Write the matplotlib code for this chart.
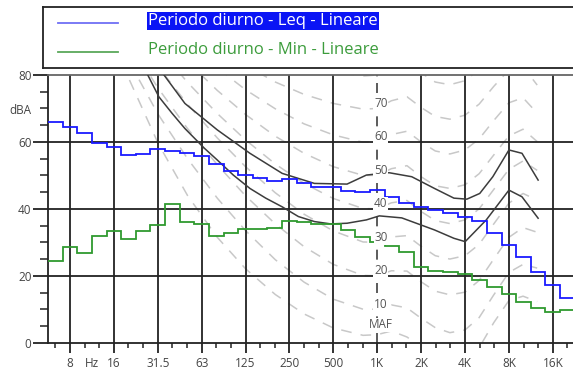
import numpy as np
import matplotlib.pyplot as plt
from matplotlib.ticker import FixedLocator, NullFormatter

plt.rcParams['font.family'] = ['Open Sans', 'DejaVu Sans']

# 1/3 octave bands (nominal) and levels
bands = [6.3, 8, 10, 12.5, 16, 20, 25, 31.5, 40, 50, 63, 80, 100, 125, 160, 200,
         250, 315, 400, 500, 630, 800, 1000, 1250, 1600, 2000, 2500, 3150, 4000,
         5000, 6300, 8000, 10000, 12500, 16000, 20000]
leq = [66.0, 64.4, 62.8, 59.8, 58.6, 56.1, 56.4, 57.8, 57.4, 56.8, 55.8, 53.5,
       51.2, 50.0, 49.2, 48.2, 49.0, 47.6, 46.6, 46.4, 45.2, 45.1, 45.5, 43.4,
       41.8, 40.6, 39.7, 38.7, 37.5, 36.4, 32.7, 29.2, 25.7, 21.2, 17.2, 13.3]
lmin = [24.5, 28.5, 26.7, 31.9, 33.5, 30.9, 33.5, 35.2, 41.5, 36.0, 35.5, 31.9,
        32.9, 34.0, 33.9, 34.2, 36.5, 36.2, 35.5, 35.5, 33.7, 31.7, 30.0, 28.8,
        27.0, 22.5, 21.5, 21.0, 20.5, 18.8, 16.5, 14.6, 12.3, 10.3, 9.3, 9.8]

# equal loudness contours (background)
cont_freq = [20, 31.5, 50, 80, 125, 200, 315, 500, 800, 1000, 1250, 1600, 2000,
             2500, 3150, 4000, 5000, 6300, 8000, 10000, 12500]
maf = [78.5, 59.5, 44.0, 31.5, 22.1, 14.4, 8.6, 4.4, 2.2, 2.4, 3.5, 1.7, -1.3,
       -4.2, -6.0, -5.4, -1.5, 6.0, 12.6, 13.9, 12.3]
phon10 = [83.8, 68.2, 55.0, 43.2, 33.5, 24.8, 18.1, 13.0, 10.0, 10.0, 11.3, 10.4,
          7.3, 4.5, 3.0, 3.8, 7.5, 14.3, 21.0, 23.4, 22.3]
phon20 = [89.6, 76.0, 64.0, 53.2, 43.9, 35.5, 28.7, 23.4, 20.1, 20.0, 21.5, 21.4,
          18.2, 15.4, 14.3, 15.1, 18.6, 25.0, 31.5, 34.4, 33.0]
phon30 = [94.9, 82.4, 71.3, 61.2, 52.6, 44.8, 38.4, 33.4, 30.1, 30.0, 31.6, 32.0,
          28.8, 26.0, 25.0, 26.0, 29.4, 35.5, 41.7, 44.6, 42.6]
phon40 = [99.9, 88.2, 77.8, 68.5, 60.6, 53.4, 47.6, 43.1, 40.1, 40.0, 41.8, 42.5,
          39.2, 36.5, 35.6, 36.7, 40.0, 45.8, 51.8, 54.3, 51.5]
phon50 = [104.7, 93.7, 84.0, 75.4, 68.2, 61.7, 56.6, 52.6, 50.0, 50.0, 52.0, 52.9,
          49.6, 46.9, 46.1, 47.2, 50.5, 56.1, 61.8, 63.8, 60.1]
phon60 = [109.5, 99.1, 90.0, 82.1, 75.6, 69.9, 65.4, 62.1, 59.9, 60.0, 62.2, 63.2,
          60.0, 57.3, 56.4, 57.6, 60.9, 66.4, 71.7, 73.2, 68.6]
phon70 = [114.3, 104.4, 95.9, 88.6, 82.9, 77.9, 74.2, 71.5, 69.8, 70.0, 72.3, 73.5,
          70.3, 67.6, 66.8, 68.0, 71.3, 76.6, 81.5, 82.5, 77.0]
phon80 = [119.0, 109.6, 101.7, 95.2, 90.1, 85.9, 82.9, 80.9, 79.7, 80.0, 82.5, 83.7,
          80.6, 77.9, 77.1, 78.3, 81.6, 86.8, 91.4, 91.7, 85.4]
contour_labels = ['MAF', '10', '20', '30', '40', '50', '60', '70']
contour_levels = [5.3, 11.5, 21.5, 31.5, 41.5, 51.5, 61.5, 71.5]

# two dark reference curves
low_freq = [26.7, 31.8, 39.1, 48, 65.3, 80, 103, 134, 172, 223, 288, 371, 480,
            621, 843, 1034, 1473, 2470, 3357, 4011, 4800, 5598, 8003, 9836, 12690]
low_db = [80, 73.5, 68.6, 64.0, 58.1, 54.6, 50.1, 46.1, 43.2, 40.6, 37.7, 36.2,
          35.5, 35.7, 36.7, 37.9, 37.3, 33.7, 31.2, 30.2, 33.7, 36.7, 45.6, 43.6, 37.2]
up_freq = [34.5, 48, 80, 134, 223, 371, 621, 843, 1206, 1725, 2470, 3357, 4120,
           5048, 6204, 8003, 9836, 12690]
up_db = [80, 71.5, 63.6, 56.6, 50.6, 47.6, 47.4, 50.1, 50.8, 49.6, 46.1, 43.2,
         42.9, 44.6, 49.6, 57.6, 56.6, 48.6]

octave_labels = ['8', '16', '31.5', '63', '125', '250', '500', '1K', '2K', '4K', '8K', '16K']

W, H = 573, 371
fig = plt.figure(figsize=(W / 100, H / 100), dpi=100)
ax = fig.add_axes([48 / W, 28.3 / H, 526.75 / W, 267.7 / H])

octaves = 1000 * 2.0 ** np.arange(-7, 5)
thirds = 1000 * 2.0 ** (np.arange(-22, 14) / 3)
edges = 1000 * 2.0 ** ((np.arange(37) - 22.5) / 3)

ax.set_xscale('log')
ax.set_xlim(edges[0], edges[-1])
ax.set_ylim(0, 80)

# background contours
for vals in [maf, phon10, phon20, phon30, phon40, phon50, phon60, phon70, phon80]:
    ax.plot(cont_freq, vals, color='#c8c8c8', lw=1.1, dashes=(7, 6), zorder=1)

# grid
for i, f in enumerate(octaves):
    if octave_labels[i] == '1K':
        ax.axvline(f, color='#404040', lw=1.2, dashes=(6, 4), zorder=2)
    else:
        ax.axvline(f, color='#222222', lw=1.3, zorder=2)
for y in [20, 40, 60]:
    ax.axhline(y, color='#222222', lw=1.3, zorder=2)

ax.plot(low_freq, low_db, color='#3c3c3c', lw=1.1, zorder=3)
ax.plot(up_freq, up_db, color='#3c3c3c', lw=1.1, zorder=3)

ax.stairs(lmin, edges, color='#2f9a2f', lw=1.3, zorder=4, baseline=None)
ax.stairs(leq, edges, color='#1a1aff', lw=1.3, zorder=4, baseline=None)

for lab, lev in zip(contour_labels, contour_levels):
    ax.text(1060, lev, lab, ha='center', va='center', fontsize=8.5, color='#555555',
            zorder=5, bbox=dict(facecolor='white', edgecolor='none', pad=0.5))

# axes styling
ax.spines['right'].set_visible(False)
ax.spines['top'].set_color('#666666')
ax.spines['left'].set_color('#222222')
ax.spines['bottom'].set_color('#222222')
for s in ['top', 'left', 'bottom']:
    ax.spines[s].set_linewidth(1.3)

ax.xaxis.set_major_locator(FixedLocator(octaves))
ax.set_xticklabels(octave_labels)
ax.xaxis.set_minor_locator(FixedLocator(thirds))
ax.xaxis.set_minor_formatter(NullFormatter())
ax.tick_params(axis='x', which='major', length=7.5, width=1.3, color='#222222',
               labelsize=8.5, labelcolor='#444444', pad=2.5)
ax.tick_params(axis='x', which='minor', length=3.6, width=1.1, color='#222222')
ax.set_yticks([0, 20, 40, 60, 80])
ax.set_yticks(np.arange(0, 81, 5), minor=True)
ax.tick_params(axis='y', which='major', length=10.8, width=1.3, color='#222222',
               labelsize=8.5, labelcolor='#444444', pad=1)
ax.tick_params(axis='y', which='minor', length=5.8, width=1.1, color='#222222')
ax.text(11.05, -0.076, 'Hz', transform=ax.get_xaxis_transform(), ha='center',
        va='center', fontsize=8.5, color='#444444')
fig.text(20 / W, 1 - 110 / H, 'dBA', ha='center', va='center', fontsize=8.5,
         color='#444444')

# legend box
lg = fig.add_axes([43.3 / W, 1 - 67.7 / H, (W + 5 - 43.3) / W, 60.4 / H])
lg.set_xlim(43.3, W + 5)
lg.set_ylim(67.7, 7.3)
lg.set_xticks([])
lg.set_yticks([])
for s in lg.spines.values():
    s.set_linewidth(1.3)
    s.set_color('#222222')
lg.plot([58, 118], [23.3, 23.3], color='#6f6ff5', lw=1.3)
lg.plot([58, 118], [51.7, 51.7], color='#5aa85a', lw=1.3)
lg.text(148, 21.2, 'Periodo diurno - Leq - Lineare', fontsize=12, color='white',
        va='center', ha='left',
        bbox=dict(facecolor='#0a14f5', edgecolor='none', pad=0.8))
lg.text(148, 50, 'Periodo diurno - Min - Lineare', fontsize=12, color='#3c9c3c',
        va='center', ha='left')

fig.savefig('out.png', dpi=100)
